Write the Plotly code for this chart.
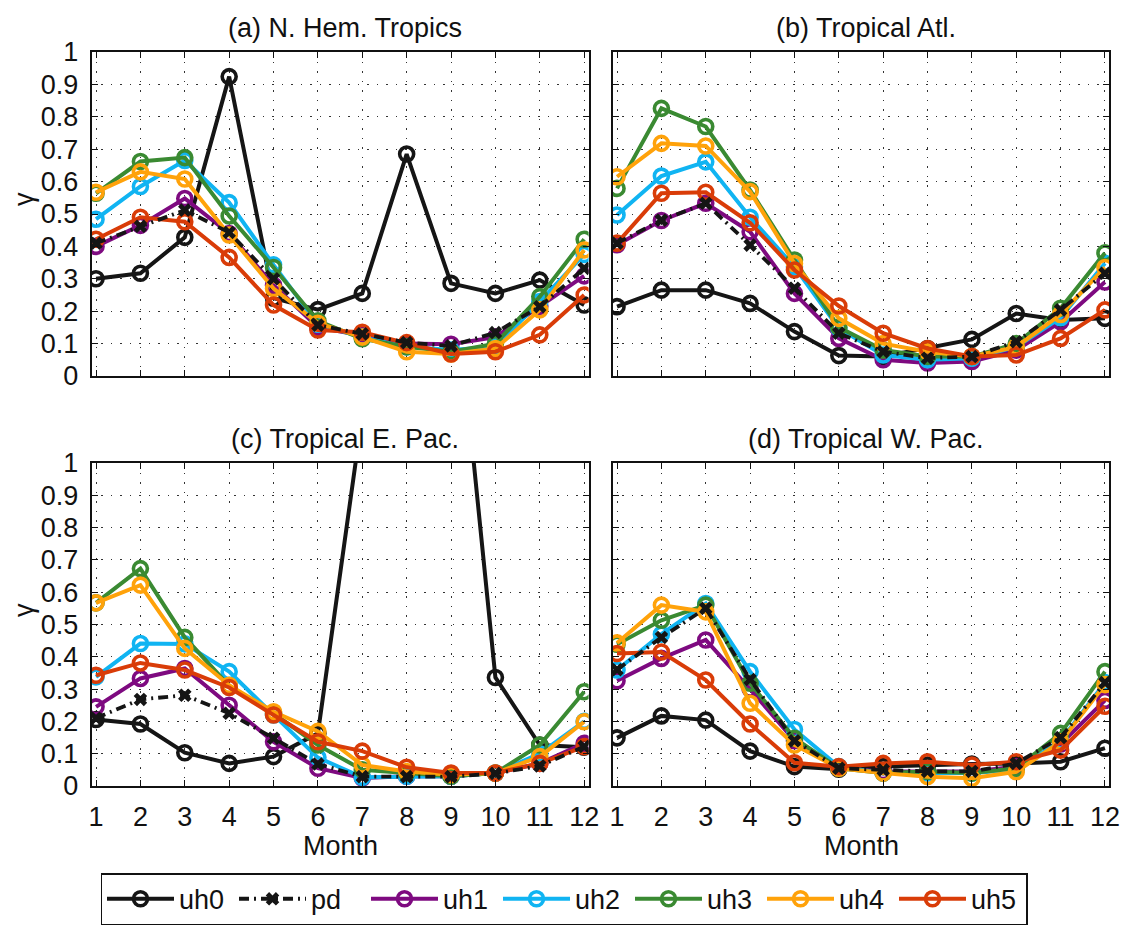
import plotly.graph_objects as go

W, H = 1128, 928
months = list(range(1, 13))
month_labels = [str(m) for m in months]
y_ticks = [round(0.1 * i, 1) for i in range(11)]
y_tick_labels = ["0", "0.1", "0.2", "0.3", "0.4", "0.5", "0.6", "0.7", "0.8", "0.9", "1"]

series_names = ["uh0", "pd", "uh1", "uh2", "uh3", "uh4", "uh5"]
panel_titles = ["(a) N. Hem. Tropics", "(b) Tropical Atl.", "(c) Tropical E. Pac.", "(d) Tropical W. Pac."]

# (a) N. Hem. Tropics
a_uh0 = [0.30, 0.317, 0.428, 0.924, 0.24, 0.205, 0.255, 0.685, 0.286, 0.255, 0.296, 0.219]
a_pd = [0.41, 0.462, 0.512, 0.443, 0.30, 0.157, 0.13, 0.103, 0.093, 0.134, 0.214, 0.332]
a_uh1 = [0.40, 0.465, 0.548, 0.44, 0.28, 0.15, 0.125, 0.10, 0.098, 0.12, 0.215, 0.309]
a_uh2 = [0.484, 0.585, 0.665, 0.535, 0.343, 0.16, 0.12, 0.09, 0.08, 0.09, 0.23, 0.375]
a_uh3 = [0.564, 0.662, 0.674, 0.494, 0.335, 0.17, 0.115, 0.09, 0.075, 0.10, 0.245, 0.422]
a_uh4 = [0.567, 0.63, 0.608, 0.435, 0.27, 0.163, 0.12, 0.075, 0.068, 0.085, 0.204, 0.389]
a_uh5 = [0.422, 0.49, 0.476, 0.366, 0.219, 0.142, 0.135, 0.103, 0.068, 0.075, 0.127, 0.25]

# (b) Tropical Atl.
b_uh0 = [0.214, 0.265, 0.265, 0.224, 0.137, 0.063, 0.06, 0.085, 0.113, 0.193, 0.173, 0.178]
b_pd = [0.41, 0.481, 0.533, 0.404, 0.271, 0.132, 0.075, 0.055, 0.06, 0.106, 0.204, 0.317]
b_uh1 = [0.405, 0.48, 0.533, 0.445, 0.255, 0.116, 0.05, 0.04, 0.045, 0.08, 0.167, 0.29]
b_uh2 = [0.497, 0.617, 0.661, 0.49, 0.337, 0.147, 0.065, 0.05, 0.055, 0.09, 0.18, 0.348]
b_uh3 = [0.579, 0.826, 0.77, 0.574, 0.358, 0.15, 0.08, 0.06, 0.06, 0.10, 0.209, 0.38]
b_uh4 = [0.615, 0.718, 0.71, 0.569, 0.347, 0.178, 0.10, 0.075, 0.06, 0.09, 0.19, 0.335]
b_uh5 = [0.41, 0.564, 0.567, 0.473, 0.327, 0.216, 0.132, 0.085, 0.06, 0.065, 0.116, 0.204]

# (c) Tropical E. Pac.
c_uh0 = [0.206, 0.192, 0.103, 0.07, 0.091, 0.163, 1.15, 1.9, 1.7, 0.336, 0.127, 0.12]
c_pd = [0.21, 0.268, 0.281, 0.225, 0.148, 0.068, 0.029, 0.029, 0.029, 0.039, 0.062, 0.122]
c_uh1 = [0.245, 0.333, 0.364, 0.25, 0.137, 0.055, 0.025, 0.03, 0.03, 0.04, 0.07, 0.132]
c_uh2 = [0.338, 0.441, 0.44, 0.354, 0.22, 0.088, 0.027, 0.03, 0.03, 0.04, 0.10, 0.20]
c_uh3 = [0.567, 0.673, 0.46, 0.31, 0.225, 0.127, 0.05, 0.04, 0.03, 0.04, 0.127, 0.292]
c_uh4 = [0.567, 0.622, 0.426, 0.312, 0.23, 0.169, 0.065, 0.045, 0.035, 0.04, 0.091, 0.199]
c_uh5 = [0.343, 0.381, 0.359, 0.305, 0.22, 0.137, 0.108, 0.058, 0.04, 0.04, 0.07, 0.122]

# (d) Tropical W. Pac.
d_uh0 = [0.149, 0.217, 0.204, 0.108, 0.06, 0.052, 0.06, 0.065, 0.068, 0.07, 0.075, 0.117]
d_pd = [0.36, 0.46, 0.55, 0.33, 0.14, 0.055, 0.05, 0.045, 0.045, 0.07, 0.15, 0.32]
d_uh1 = [0.326, 0.395, 0.452, 0.30, 0.14, 0.055, 0.045, 0.045, 0.045, 0.06, 0.13, 0.265]
d_uh2 = [0.359, 0.47, 0.565, 0.354, 0.175, 0.06, 0.04, 0.04, 0.04, 0.05, 0.14, 0.32]
d_uh3 = [0.439, 0.513, 0.56, 0.318, 0.148, 0.055, 0.04, 0.045, 0.04, 0.055, 0.163, 0.354]
d_uh4 = [0.443, 0.56, 0.539, 0.256, 0.127, 0.055, 0.04, 0.029, 0.024, 0.044, 0.137, 0.314]
d_uh5 = [0.41, 0.415, 0.328, 0.192, 0.072, 0.06, 0.07, 0.075, 0.065, 0.075, 0.111, 0.247]

panels = [
    dict(uh0=a_uh0, pd=a_pd, uh1=a_uh1, uh2=a_uh2, uh3=a_uh3, uh4=a_uh4, uh5=a_uh5),
    dict(uh0=b_uh0, pd=b_pd, uh1=b_uh1, uh2=b_uh2, uh3=b_uh3, uh4=b_uh4, uh5=b_uh5),
    dict(uh0=c_uh0, pd=c_pd, uh1=c_uh1, uh2=c_uh2, uh3=c_uh3, uh4=c_uh4, uh5=c_uh5),
    dict(uh0=d_uh0, pd=d_pd, uh1=d_uh1, uh2=d_uh2, uh3=d_uh3, uh4=d_uh4, uh5=d_uh5),
]

colors = {"uh0": "#151515", "pd": "#151515", "uh1": "#7E0A80", "uh2": "#10B4F2",
          "uh3": "#3A8A32", "uh4": "#FFA20A", "uh5": "#D93C08"}

FONT = "Liberation Sans, Arial, Helvetica, sans-serif"
FS = 27

# pixel layout of the four axes boxes
px_x = [(91.6, 588.6), (612.6, 1109.4), (91.6, 588.6), (612.6, 1109.4)]
px_y = [(52, 376), (52, 376), (463, 786), (463, 786)]

fig = go.Figure()

draw_order = ["uh0", "uh1", "uh2", "uh3", "uh4", "uh5", "pd"]
legend_rank = {n: i + 1 for i, n in enumerate(series_names)}

for p, data in enumerate(panels):
    sfx = "" if p == 0 else str(p + 1)
    for name in draw_order:
        if name == "pd":
            line = dict(color=colors[name], width=3.8, dash="10px,5px,2px,5px")
            marker = dict(symbol="x", size=12, color=colors[name], line=dict(width=0))
        else:
            line = dict(color=colors[name], width=4)
            marker = dict(symbol="circle-open", size=14, color=colors[name], line=dict(width=3.6))
        fig.add_trace(go.Scatter(
            x=months, y=data[name], mode="lines+markers", name=name,
            line=line, marker=marker, showlegend=(p == 0),
            legendrank=legend_rank[name],
            xaxis="x" + sfx, yaxis="y" + sfx,
        ))

layout = dict(
    width=W, height=H, margin=dict(l=0, r=0, t=0, b=0, autoexpand=False),
    paper_bgcolor="white", plot_bgcolor="white",
    font=dict(family=FONT, size=FS, color="#111"),
    showlegend=True,
    legend=dict(
        orientation="h", x=0.5, xanchor="center", y=0.003, yanchor="bottom", yref="container",
        bordercolor="#111", borderwidth=1.5, bgcolor="white",
        font=dict(family=FONT, size=FS, color="#111"),
        itemwidth=67, entrywidth=50, traceorder="normal",
    ),
)

for p in range(4):
    sfx = "" if p == 0 else str(p + 1)
    x0, x1 = px_x[p]
    y0, y1 = px_y[p]
    bottom = p >= 2
    left = p % 2 == 0
    layout["xaxis" + sfx] = dict(
        domain=[x0 / W, x1 / W], anchor="y" + sfx, range=[0.9, 12.1],
        tickmode="array", tickvals=months, ticktext=month_labels,
        showticklabels=bottom, ticks="inside", ticklen=6, tickwidth=1.2, tickcolor="#111",
        showline=True, linewidth=2, linecolor="#111", mirror="ticks",
        showgrid=True, gridcolor="#333", gridwidth=1.2, griddash="1.5px,8px",
        zeroline=False, automargin=False, tickfont=dict(size=FS), ticklabelstandoff=6,
    )
    layout["yaxis" + sfx] = dict(
        domain=[(H - y1) / H, (H - y0) / H], anchor="x" + sfx, range=[0, 1],
        tickmode="array", tickvals=y_ticks, ticktext=y_tick_labels,
        showticklabels=left, ticks="inside", ticklen=6, tickwidth=1.2, tickcolor="#111",
        showline=True, linewidth=2, linecolor="#111", mirror="ticks",
        showgrid=True, gridcolor="#333", gridwidth=1.2, griddash="1.5px,8px",
        zeroline=False, automargin=False, tickfont=dict(size=FS), ticklabelstandoff=6,
    )

annotations = []
title_y = [28, 28, 439, 439]
for p in range(4):
    x0, x1 = px_x[p]
    annotations.append(dict(
        text=panel_titles[p], x=((x0 + x1) / 2 + 5) / W, y=(H - title_y[p]) / H,
        xref="paper", yref="paper", xanchor="center", yanchor="middle",
        showarrow=False, font=dict(family=FONT, size=FS, color="#111"),
    ))
for yc in [199, 610]:
    annotations.append(dict(
        text="γ", x=24 / W, y=(H - yc) / H, xref="paper", yref="paper",
        xanchor="center", yanchor="middle", textangle=-90, showarrow=False,
        font=dict(family=FONT, size=FS, color="#111"),
    ))
for p in [2, 3]:
    x0, x1 = px_x[p]
    annotations.append(dict(
        text="Month", x=(x0 + x1) / 2 / W, y=(H - 846) / H, xref="paper", yref="paper",
        xanchor="center", yanchor="middle", showarrow=False,
        font=dict(family=FONT, size=FS, color="#111"),
    ))
layout["annotations"] = annotations

fig.update_layout(**layout)
fig.write_html("out.html")
